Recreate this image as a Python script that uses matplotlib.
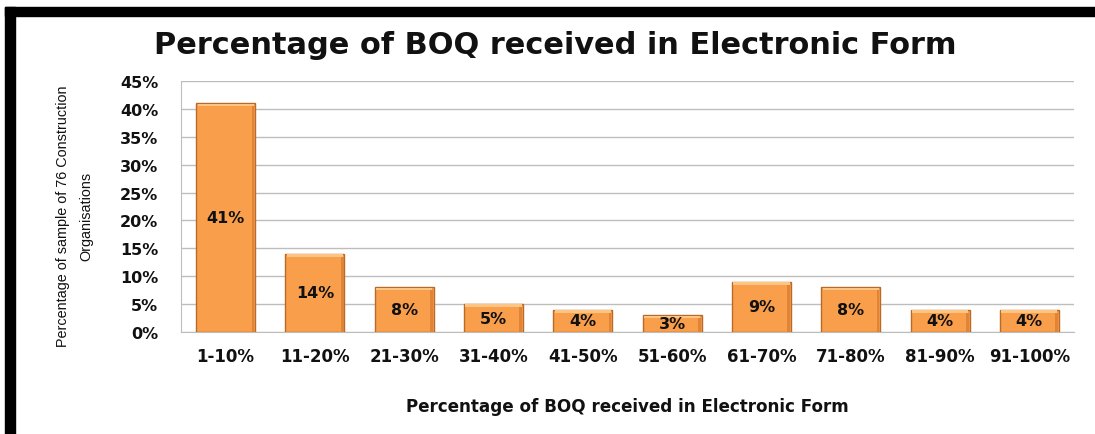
import matplotlib
matplotlib.use("Agg")
import matplotlib.pyplot as plt
from matplotlib.patches import Rectangle
from matplotlib.ticker import FuncFormatter

categories = ["1-10%", "11-20%", "21-30%", "31-40%", "41-50%", "51-60%",
              "61-70%", "71-80%", "81-90%", "91-100%"]
values = [41, 14, 8, 5, 4, 3, 9, 8, 4, 4]
yticks = [0, 5, 10, 15, 20, 25, 30, 35, 40, 45]

W, H = 1095, 435
fig = plt.figure(figsize=(W / 100, H / 100), dpi=100)

def fx(px):
    return px / W

def fy(py):
    return 1 - py / H

left, right, top, bottom = 181, 1074, 82, 333
ax = fig.add_axes([fx(left), fy(bottom), fx(right - left), (bottom - top) / H])

x = list(range(len(categories)))
bars = ax.bar(x, values, width=0.66, color="#F99F4C", edgecolor="#B86A28",
              linewidth=1.0, zorder=3)
for b in bars:
    h = b.get_height()
    ax.add_patch(Rectangle((b.get_x() + 0.015, h - 0.55), b.get_width() - 0.03,
                           0.5, color="#FDC584", lw=0, zorder=4))
    ax.add_patch(Rectangle((b.get_x() + b.get_width() - 0.04, 0.05), 0.03,
                           h - 0.6, color="#E08538", lw=0, zorder=4))

for xi, v in zip(x, values):
    ax.text(xi, v / 2, f"{v}%", ha="center", va="center", fontsize=11.5,
            fontweight="bold", color="#111111", zorder=5)

ax.set_xlim(-0.5, len(categories) - 0.5)
ax.set_ylim(0, 45)
ax.set_yticks(yticks)
ax.yaxis.set_major_formatter(FuncFormatter(lambda v, p: f"{int(v)}%"))
ax.set_xticks(x)
ax.set_xticklabels(categories)
ax.grid(axis="y", color="#BDBDBD", linewidth=1.0, zorder=0)
ax.set_axisbelow(True)
for s in ["top", "right"]:
    ax.spines[s].set_visible(False)
ax.spines["left"].set_color("#BDBDBD")
ax.spines["bottom"].set_color("#BDBDBD")
ax.tick_params(axis="y", length=0, labelsize=11.5, colors="#111111", pad=16.5)
ax.tick_params(axis="x", length=0, labelsize=12, colors="#111111", pad=11)
for lbl in ax.get_xticklabels() + ax.get_yticklabels():
    lbl.set_fontweight("bold")

fig.text(fx(555), fy(46), "Percentage of BOQ received in Electronic Form",
         ha="center", va="center", fontsize=21.9, fontweight="bold", color="#111111")
fig.text(fx(627), fy(407), "Percentage of BOQ received in Electronic Form",
         ha="center", va="center", fontsize=12.1, fontweight="bold", color="#111111")
fig.text(fx(75), fy(216), "Percentage of sample of 76 Construction\nOrganisations",
         ha="center", va="center", rotation=90, fontsize=10.4, color="#111111",
         family=["Liberation Sans", "DejaVu Sans"], linespacing=1.85)

fig.patches.append(Rectangle((fx(5), fy(17)), 1 - fx(5), 9 / H,
                             transform=fig.transFigure, color="black", zorder=10))
fig.patches.append(Rectangle((fx(5), 0), 10 / W, fy(8),
                             transform=fig.transFigure, color="black", zorder=10))

fig.savefig("out.png", dpi=100)
